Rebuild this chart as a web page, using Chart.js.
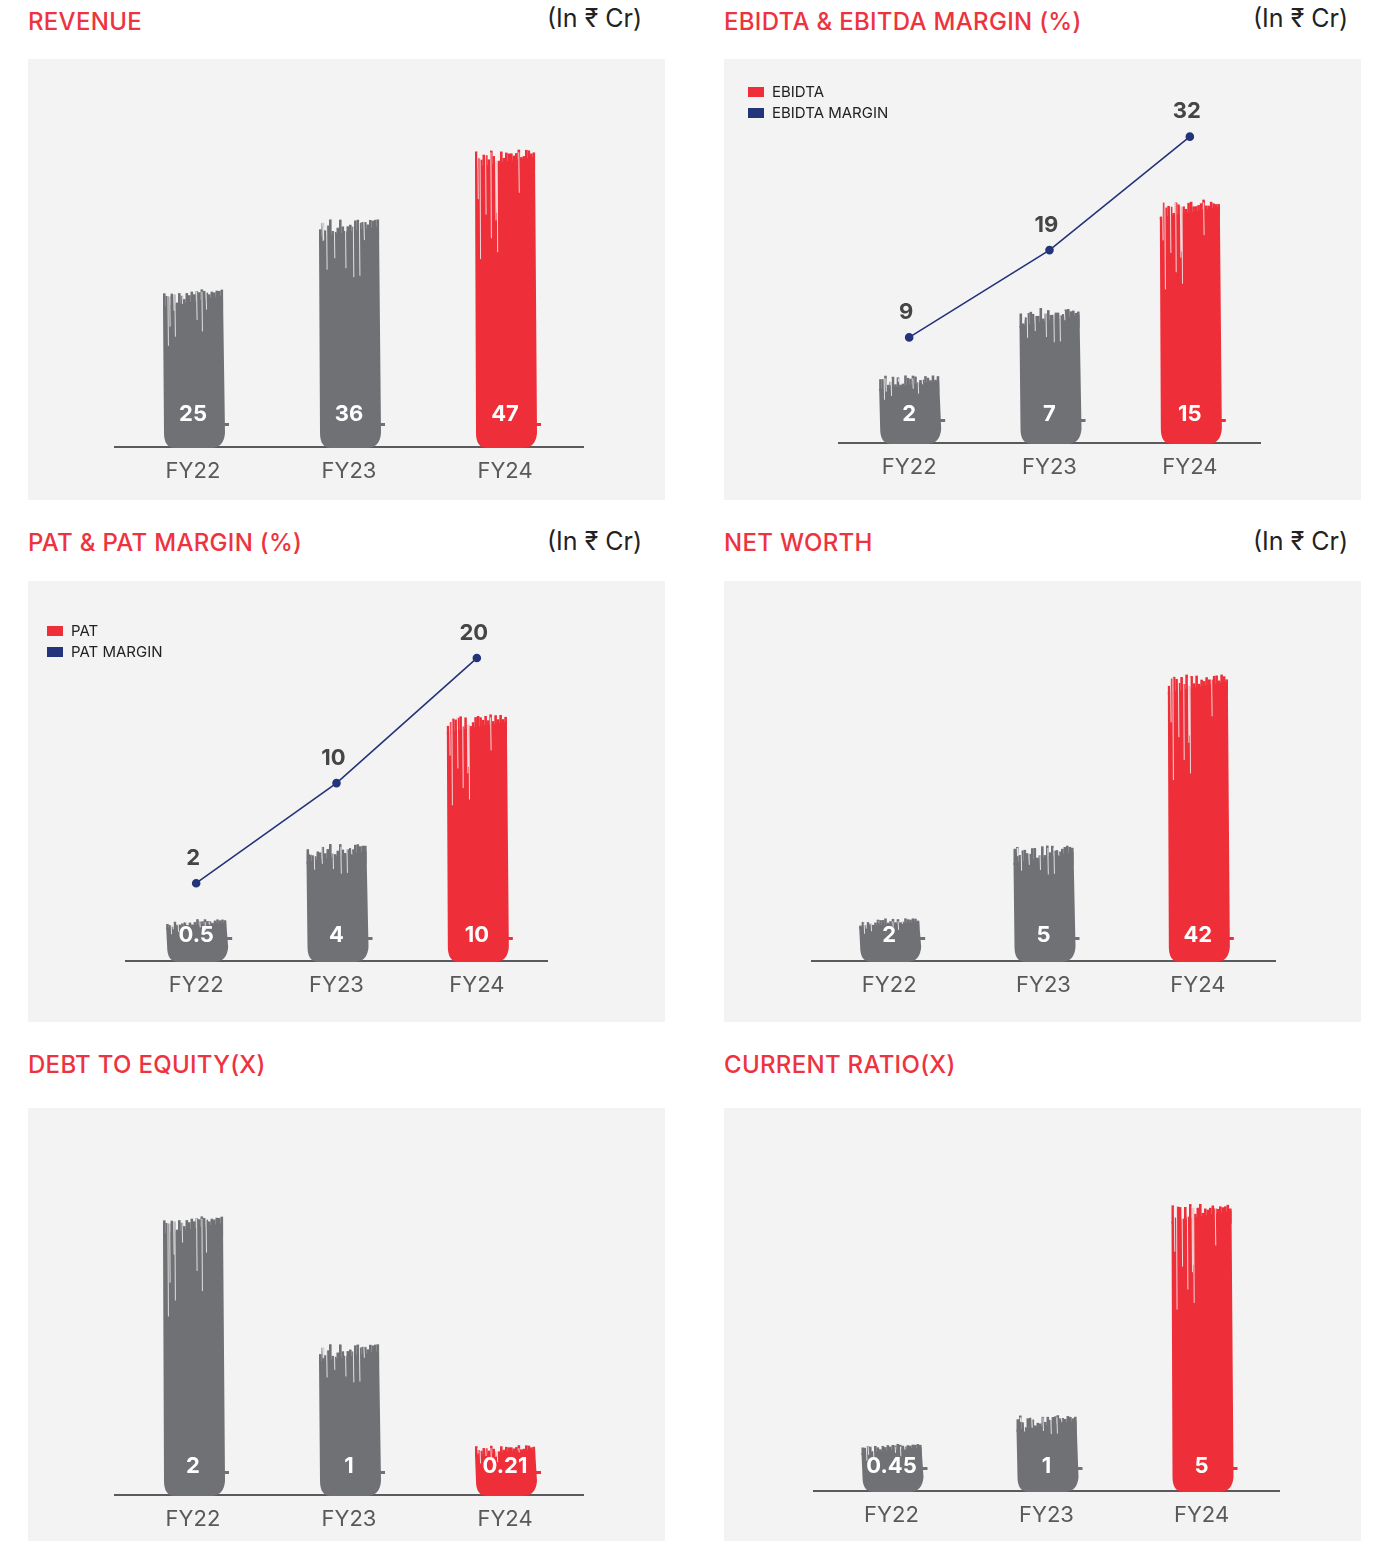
<!DOCTYPE html>
<html>
<head>
<meta charset="utf-8">
<script src="https://cdn.jsdelivr.net/npm/chart.js@4.4.1/dist/chart.umd.min.js"></script>
<style>
  body { margin: 0; background: #fff; width: 1397px; height: 1541px; position: relative; overflow: hidden;
         font-family: Inter, "Noto Sans", sans-serif; }
  .title { position: absolute; font-size: 24px; font-weight: 500; color: #ee3340; line-height: 30px; white-space: nowrap; letter-spacing: 0.3px; }
  .unit { position: absolute; font-size: 25px; color: #222; line-height: 30px; white-space: nowrap; }
  .box { position: absolute; width: 637px; background: #f3f3f3; }
  .box canvas { position: absolute; left: 0; top: 0; }
  .legend { position: absolute; font-size: 15px; color: #222; line-height: 21px; }
  .legend .sw { display: inline-block; width: 16px; height: 10px; margin-right: 8px; vertical-align: 0px; }
</style>
</head>
<body>

<div class="title" style="left:28px; top:7px">REVENUE</div>
<div class="unit" style="right:755px; top:3px">(In ₹ Cr)</div>
<div class="box" style="left:28px; top:59px; height:441px"><canvas id="revenueChart" width="637" height="441"></canvas></div>

<div class="title" style="left:724px; top:7px">EBIDTA &amp; EBITDA MARGIN (%)</div>
<div class="unit" style="right:49px; top:3px">(In ₹ Cr)</div>
<div class="box" style="left:724px; top:59px; height:441px"><canvas id="ebitdaChart" width="637" height="441"></canvas>
  <div class="legend" id="ebitdaLegend" style="left:24px; top:22px"></div></div>

<div class="title" style="left:28px; top:528px">PAT &amp; PAT MARGIN (%)</div>
<div class="unit" style="right:755px; top:526px">(In ₹ Cr)</div>
<div class="box" style="left:28px; top:581px; height:441px"><canvas id="patChart" width="637" height="441"></canvas>
  <div class="legend" id="patLegend" style="left:19px; top:39px"></div></div>

<div class="title" style="left:724px; top:528px">NET WORTH</div>
<div class="unit" style="right:49px; top:526px">(In ₹ Cr)</div>
<div class="box" style="left:724px; top:581px; height:441px"><canvas id="netWorthChart" width="637" height="441"></canvas></div>

<div class="title" style="left:28px; top:1050px">DEBT TO EQUITY(X)</div>
<div class="box" style="left:28px; top:1108px; height:433px"><canvas id="debtChart" width="637" height="433"></canvas></div>

<div class="title" style="left:724px; top:1050px">CURRENT RATIO(X)</div>
<div class="box" style="left:724px; top:1108px; height:433px"><canvas id="ratioChart" width="637" height="433"></canvas></div>

<script>
const years = ['FY22', 'FY23', 'FY24'];
const revenue = [25, 36, 47];
const ebitda = [2, 7, 15];
const ebitdaMargin = [9, 19, 32];
const pat = [0.5, 4, 10];
const patMargin = [2, 10, 20];
const netWorth = [2, 5, 42];
const debtEquity = [2, 1, 0.21];
const currentRatio = [0.45, 1, 5];

const GREY = '#707175', RED = '#ee2e38', NAVY = '#24347a';
const barColors = [GREY, GREY, RED];
const FONT = 'Inter, "Noto Sans", sans-serif';

// giá trị giả ngẫu nhiên cố định, chỉ dùng cho vân cọ
function hash(n) {
    const s = Math.sin(n * 127.1 + 311.7) * 43758.5453;
    return s - Math.floor(s);
}

// vẽ một cột kiểu nét cọ
function drawBrush(ctx, x, top, base, w, color, seed) {
    const l = x - w / 2, r = x + w / 2, h = base - top;
    const rag = Math.min(18, h * 0.2);
    ctx.save();
    ctx.fillStyle = color;
    ctx.beginPath();
    ctx.moveTo(l + 1, top + rag);
    ctx.lineTo(r - 1, top + rag * 0.4);
    ctx.lineTo(r + 1, base - 14);
    ctx.quadraticCurveTo(r, base, r - 12, base + 1);
    ctx.lineTo(l + 12, base + 1);
    ctx.quadraticCurveTo(l + 2, base, l + 2, base - 14);
    ctx.closePath();
    ctx.fill();

    // mép trên lởm chởm
    for (let sx = l + 1; sx < r - 1; sx += 2.5) {
        const t = (sx - l) / w;
        const off = hash(seed * 31 + sx * 0.7) * rag * (1 - t * 0.75);
        ctx.fillRect(sx, top + off, 2.6, rag + 2 - off);
    }

    // vệt sáng dọc
    ctx.strokeStyle = 'rgba(243,243,243,0.85)';
    ctx.lineWidth = 1;
    for (let k = 0; k < 8; k++) {
        const sx = l + 3 + hash(seed * 17 + k) * w * 0.7;
        const len = Math.min((0.08 + hash(seed * 13 + k * 3) * 0.3) * h, 110);
        ctx.beginPath();
        ctx.moveTo(sx, top + 3);
        ctx.lineTo(sx + 0.5, top + len);
        ctx.stroke();
    }
    // đuôi nét cọ
    ctx.fillRect(r - 2, base - 24, 7, 3);
    ctx.restore();
}

const brushBars = {
    id: 'brushBars',
    beforeDatasetDraw(chart, args) {
        if (args.meta.type !== 'bar') return;
        const ctx = chart.ctx;
        args.meta.data.forEach((bar, i) => {
            const p = bar.getProps(['x', 'y', 'base', 'width'], true);
            drawBrush(ctx, p.x, p.y, p.base, p.width, bar.options.backgroundColor, i + 1 + args.index * 7);
        });
        return false;
    },
    afterDatasetsDraw(chart, args, opts) {
        const ctx = chart.ctx;
        ctx.save();
        ctx.textAlign = 'center';
        ctx.textBaseline = 'middle';
        ctx.font = 'bold 22px ' + FONT;
        chart.data.datasets.forEach((ds, di) => {
            const meta = chart.getDatasetMeta(di);
            meta.data.forEach((el, i) => {
                if (meta.type === 'bar') {
                    ctx.fillStyle = '#fff';
                    ctx.fillText(String(ds.data[i]), el.x, el.base - opts.labelOffset);
                } else {
                    ctx.fillStyle = '#454545';
                    ctx.fillText(String(ds.data[i]), el.x - 3, el.y - 25);
                }
            });
        });
        ctx.restore();
    }
};

function makeChart(id, cfg) {
    const datasets = [{
        type: 'bar',
        label: cfg.barLabel || '',
        data: cfg.bars,
        backgroundColor: barColors,
        base: cfg.yMin,
        barThickness: 62,
        yAxisID: 'y',
        order: 2
    }];
    const scales = {
        x: {
            grid: { display: false, drawTicks: false },
            border: { display: true, color: '#5a5a5c', width: 2 },
            ticks: { color: '#58595b', padding: 13, font: { family: FONT, size: 22, lineHeight: 1 } }
        },
        y: { type: cfg.log ? 'logarithmic' : 'linear', display: false, min: cfg.yMin, max: cfg.yMax }
    };
    if (cfg.line) {
        datasets.push({
            type: 'line',
            label: cfg.lineLabel,
            data: cfg.line,
            borderColor: NAVY,
            backgroundColor: NAVY,
            borderWidth: 1.6,
            pointRadius: 3.5,
            pointBackgroundColor: NAVY,
            yAxisID: 'y2',
            order: 1
        });
        scales.y2 = { display: false, min: cfg.y2Min, max: cfg.y2Max };
    }
    const chart = new Chart(document.getElementById(id), {
        type: 'bar',
        data: { labels: years, datasets: datasets },
        options: {
            responsive: false,
            animation: false,
            layout: { padding: cfg.pad },
            plugins: {
                legend: { display: false },
                tooltip: { enabled: false },
                brushBars: { labelOffset: cfg.labelOffset }
            },
            scales: scales
        },
        plugins: [brushBars]
    });

    // chú thích kiểu HTML
    if (cfg.legendId) {
        const el = document.getElementById(cfg.legendId);
        el.innerHTML = datasets.map(ds => {
            const c = ds.type === 'bar' ? RED : ds.borderColor;
            return `<div><span class="sw" style="background:${c}"></span>${ds.label}</div>`;
        }).join('');
    }
    return chart;
}

makeChart('revenueChart', {
    bars: revenue, yMin: 0, yMax: 57, labelOffset: 33,
    pad: { left: 87, right: 82, top: 27, bottom: 5 }
});

makeChart('ebitdaChart', {
    bars: ebitda, barLabel: 'EBIDTA', yMin: -3, yMax: 23.4, labelOffset: 29,
    line: ebitdaMargin, lineLabel: 'EBIDTA MARGIN', y2Min: -3.1, y2Max: 37.8,
    legendId: 'ebitdaLegend',
    pad: { left: 115, right: 101, top: 27, bottom: 9 }
});

makeChart('patChart', {
    bars: pat, barLabel: 'PAT', yMin: -1.44, yMax: 14.93, labelOffset: 26,
    line: patMargin, lineLabel: 'PAT MARGIN', y2Min: -4.22, y2Max: 24.0,
    legendId: 'patLegend',
    pad: { left: 98, right: 118, top: 27, bottom: 13 }
});

makeChart('netWorthChart', {
    bars: netWorth, log: true, yMin: 1.174, yMax: 96.2, labelOffset: 26,
    pad: { left: 88, right: 86, top: 27, bottom: 13 }
});

makeChart('debtChart', {
    bars: debtEquity, yMin: -0.18, yMax: 2.63, labelOffset: 29,
    pad: { left: 87, right: 82, top: 27, bottom: -2 }
});

makeChart('ratioChart', {
    bars: currentRatio, yMin: -0.45, yMax: 6.30, labelOffset: 25,
    pad: { left: 90, right: 82, top: 27, bottom: 2 }
});
</script>
</body>
</html>
